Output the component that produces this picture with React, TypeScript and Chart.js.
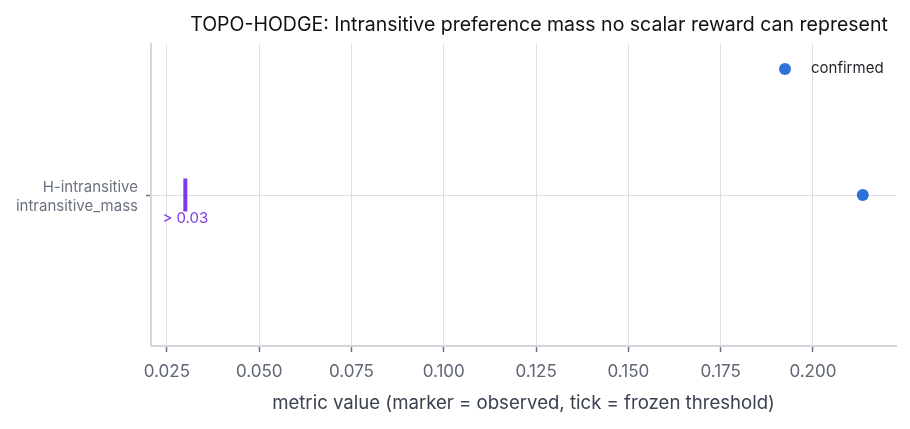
import React, { useEffect, useRef } from "react";
import { Chart, registerables } from "chart.js";

Chart.register(...registerables);

const TITLE = "TOPO-HODGE: Intransitive preference mass no scalar reward can represent";
const X_TITLE = "metric value (marker = observed, tick = frozen threshold)";
const categories: string[][] = [["H-intransitive", "intransitive_mass"]];
const observed: number[] = [0.2135];
const thresholds: number[] = [0.03];
const thresholdLabels: string[] = ["> 0.03"];
const statusLabel = "confirmed";
const xTicks: number[] = [0.025, 0.05, 0.075, 0.1, 0.125, 0.15, 0.175, 0.2];
const X_MIN = 0.0207;
const X_MAX = 0.2225;

const BLUE = "#2c72d8";
const PURPLE = "#7c3aed";
const GRID = "#dcdfe6";
const FONT = "Inter, 'Noto Sans', sans-serif";

const overlay = {
  id: "overlay",
  afterDatasetsDraw(chart: any) {
    const { ctx, chartArea, scales } = chart;
    ctx.save();
    // threshold labels
    ctx.fillStyle = PURPLE;
    ctx.font = `15px ${FONT}`;
    ctx.textAlign = "center";
    ctx.textBaseline = "top";
    thresholds.forEach((t, i) => {
      const x = scales.x.getPixelForValue(t);
      const y = scales.y.getPixelForValue(i);
      ctx.fillText(thresholdLabels[i], x, y + 16);
    });
    // legend
    ctx.fillStyle = BLUE;
    ctx.beginPath();
    ctx.arc(chartArea.right - 111, chartArea.top + 25, 6, 0, Math.PI * 2);
    ctx.fill();
    ctx.fillStyle = "#1f2328";
    ctx.font = `15px ${FONT}`;
    ctx.textAlign = "left";
    ctx.textBaseline = "middle";
    ctx.fillText(statusLabel, chartArea.right - 85, chartArea.top + 24);
    // title
    ctx.fillStyle = "#111111";
    ctx.font = `19.5px ${FONT}`;
    ctx.textAlign = "center";
    ctx.textBaseline = "middle";
    ctx.fillText(TITLE, chartArea.left + 388, 17);
    ctx.restore();
  },
};

export default function App() {
  const ref = useRef<HTMLCanvasElement | null>(null);
  useEffect(() => {
    if (!ref.current) return;
    const chart = new Chart(ref.current, {
      type: "scatter",
      data: {
        labels: categories as any,
        datasets: [
          {
            label: "threshold",
            data: thresholds.map((t, i) => ({ x: t, y: i })),
            pointStyle: "line",
            rotation: 90,
            pointRadius: 16.5,
            borderWidth: 4,
            borderColor: PURPLE,
            backgroundColor: PURPLE,
          } as any,
          {
            label: statusLabel,
            data: observed.map((v, i) => ({ x: v, y: i })),
            pointRadius: 6,
            pointBackgroundColor: BLUE,
            pointBorderColor: BLUE,
            borderWidth: 0,
          } as any,
        ],
      },
      options: {
        animation: false,
        responsive: false,
        layout: { autoPadding: false, padding: { left: 0, top: 36, right: 6, bottom: 0 } },
        plugins: { legend: { display: false }, tooltip: { enabled: false } },
        scales: {
          x: {
            type: "linear",
            min: X_MIN,
            max: X_MAX,
            afterBuildTicks: (scale: any) => {
              scale.ticks = xTicks.map((v) => ({ value: v }));
            },
            afterFit: (scale: any) => {
              scale.height = 75;
              scale.paddingLeft = 0;
              scale.paddingRight = 0;
            },
            grid: { color: GRID, lineWidth: 1, tickColor: "#6b7280", tickLength: 6, tickWidth: 1.5 },
            border: { color: "#d4d7de", width: 2 },
            ticks: {
              color: "#5f6673",
              font: { family: FONT, size: 17 },
              padding: 10,
              callback: (v: any) => Number(v).toFixed(3),
            },
            title: {
              display: true,
              text: X_TITLE,
              color: "#3b4250",
              font: { family: FONT, size: 18.6 },
              padding: { top: 0, bottom: 6 },
            },
          },
          y: {
            type: "category",
            labels: categories as any,
            offset: true,
            afterFit: (scale: any) => {
              scale.width = 143;
              scale.paddingTop = 0;
              scale.paddingBottom = 0;
            },
            grid: { color: GRID, lineWidth: 1, tickColor: "#6b7280", tickLength: 5, tickWidth: 1.5 },
            border: { color: "#d4d7de", width: 2 },
            ticks: {
              color: "#6b7280",
              font: { family: FONT, size: 15, lineHeight: 1.3 },
              padding: 8,
              labelOffset: 2,
            },
          },
        },
      },
      plugins: [overlay],
    });
    return () => chart.destroy();
  }, []);
  return (
    <div style={{ width: "894px", height: "413px" }}>
      <canvas ref={ref} width={894} height={413} style={{ display: "block" }} />
    </div>
  );
}
